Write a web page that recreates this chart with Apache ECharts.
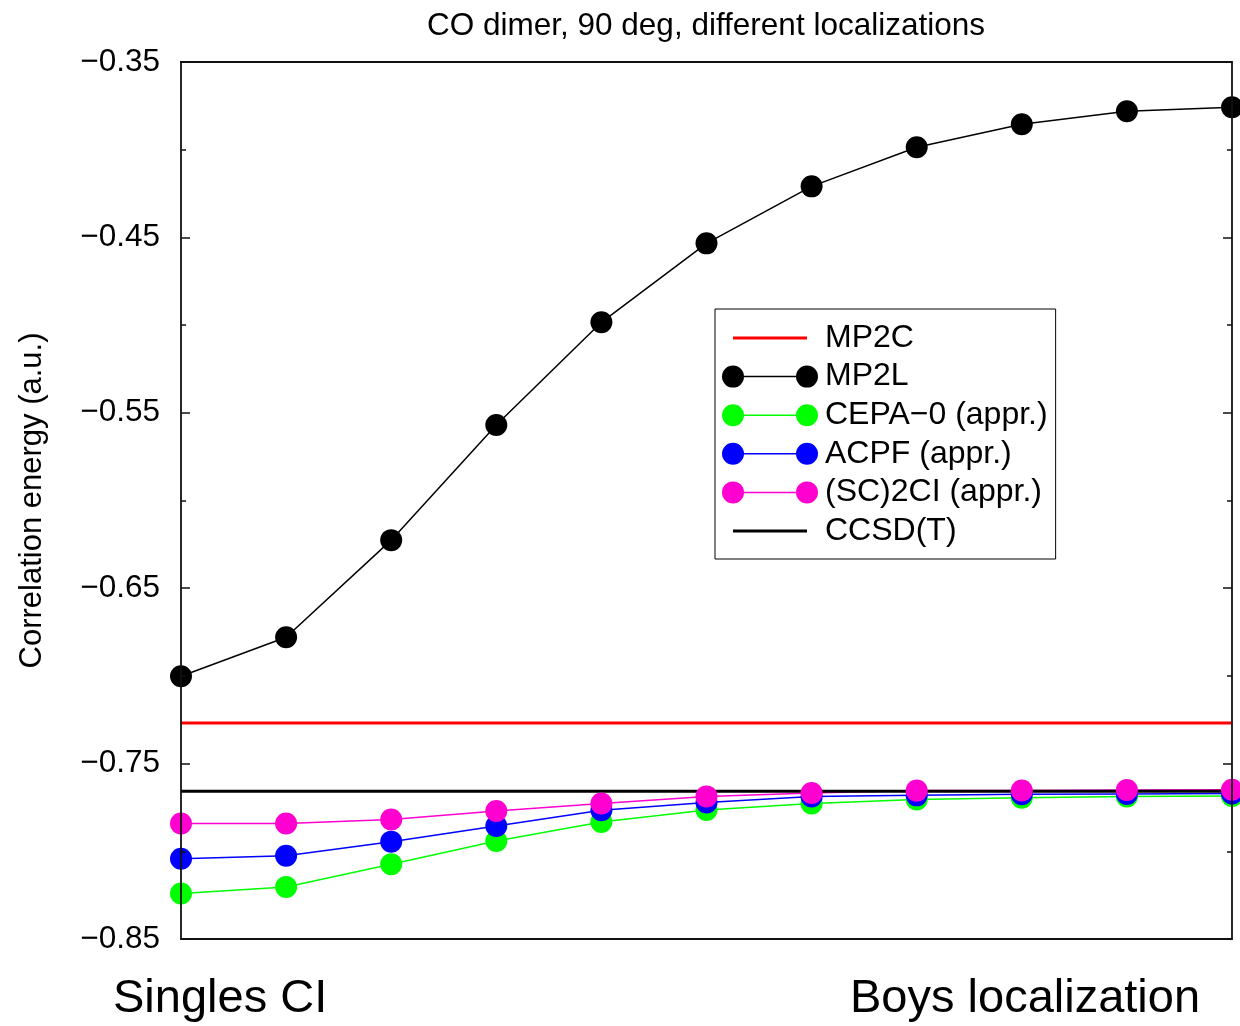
<!DOCTYPE html>
<html>
<head>
<meta charset="utf-8">
<script src="https://cdn.jsdelivr.net/npm/echarts@6/dist/echarts.min.js"></script>
<style>html,body{margin:0;padding:0;background:#fff;}#c{width:1240px;height:1026px;}</style>
</head>
<body>
<div id="c"></div>
<script>
// ---- data ----
var steps = [0, 1, 2, 3, 4, 5, 6, 7, 8, 9, 10];
var mp2cValue = -0.7269;
var ccsdtValue = -0.7657;
var mp2l = [-0.7002, -0.6780, -0.6226, -0.5570, -0.4984, -0.4534, -0.4209, -0.3986, -0.3855, -0.3781, -0.3758];
var cepa0 = [-0.8241, -0.8204, -0.8074, -0.7941, -0.7833, -0.7765, -0.7728, -0.7704, -0.7694, -0.7688, -0.7685];
var acpf = [-0.8042, -0.8025, -0.7945, -0.7856, -0.7766, -0.7722, -0.7688, -0.7681, -0.7675, -0.7673, -0.7671];
var sc2ci = [-0.7842, -0.7842, -0.7819, -0.7770, -0.7727, -0.7687, -0.7668, -0.7654, -0.7653, -0.7651, -0.7649];
var yTicks = [-0.85, -0.75, -0.65, -0.55, -0.45, -0.35];
var seriesNames = ['MP2C', 'MP2L', 'CEPA\u22120 (appr.)', 'ACPF (appr.)', '(SC)2CI (appr.)', 'CCSD(T)'];
var titleText = 'CO dimer, 90 deg, different localizations';
var yName = 'Correlation energy (a.u.)';
var xLeftLabel = 'Singles CI';
var xRightLabel = 'Boys localization';

function pairs(vals) { return steps.map(function (s, i) { return [s, vals[i]]; }); }
function flat(v) { return [[steps[0], v], [steps[steps.length - 1], v]]; }

var FONT = 'Liberation Sans, Helvetica, Arial, sans-serif';
var markIcon = 'path://M0,11A11,11,0,1,1,22,11A11,11,0,1,1,0,11Z M11,10.25L85,10.25L85,11.75L11,11.75Z M74,11A11,11,0,1,1,96,11A11,11,0,1,1,74,11Z';
var lineIcon = 'path://M0,0L0.01,0L0,0.01Z M96,22L95.99,22L96,21.99Z M11,9.5L85,9.5L85,12.5L11,12.5Z';

function markSeries(name, vals, color) {
  return {
    name: name, type: 'line', data: pairs(vals),
    symbol: 'circle', symbolSize: 22, showSymbol: true,
    lineStyle: { color: color, width: 1.5 },
    itemStyle: { color: color, borderWidth: 0 },
    emphasis: { disabled: true }, clip: false
  };
}
function flatSeries(name, v, color) {
  return {
    name: name, type: 'line', data: flat(v), symbol: 'none',
    lineStyle: { color: color, width: 3 },
    itemStyle: { color: color, borderWidth: 0 },
    emphasis: { disabled: true }
  };
}

var chart = echarts.init(document.getElementById('c'), null, { renderer: 'canvas' });
var axisLineStyle = { color: '#111', width: 1.8 };
var fmt = function (v) { return (v < 0 ? '\u2212' : '') + Math.abs(v).toFixed(2); };
chart.setOption({
  animation: false,
  backgroundColor: '#fff',
  grid: { left: 181, right: 8, top: 62, bottom: 87, containLabel: false },
  xAxis: [
    { type: 'value', min: steps[0], max: steps[steps.length - 1], position: 'bottom', z: 10,
      axisLine: { show: true, onZero: false, lineStyle: axisLineStyle },
      axisTick: { show: false }, axisLabel: { show: false }, splitLine: { show: false } },
    { type: 'value', min: steps[0], max: steps[steps.length - 1], position: 'top', z: 10,
      axisLine: { show: true, onZero: false, lineStyle: axisLineStyle },
      axisTick: { show: false }, axisLabel: { show: false }, splitLine: { show: false } }
  ],
  yAxis: [
    { type: 'value', min: yTicks[0], max: yTicks[yTicks.length - 1], interval: 0.1, position: 'left', z: 10,
      name: yName, nameLocation: 'middle', nameGap: 133, nameRotate: 90,
      nameTextStyle: { fontSize: 31, fontFamily: FONT, color: '#000' },
      axisLine: { show: true, onZero: false, lineStyle: axisLineStyle },
      axisTick: { show: true, inside: true, length: 9, lineStyle: { color: '#111', width: 1.5 } },
      minorTick: { show: true, splitNumber: 2, length: 5, lineStyle: { color: '#111', width: 1.5 } },
      axisLabel: { show: true, margin: 21, fontSize: 31.5, fontFamily: FONT, color: '#000', formatter: fmt },
      splitLine: { show: false } },
    { type: 'value', min: yTicks[0], max: yTicks[yTicks.length - 1], interval: 0.1, position: 'right', z: 10,
      axisLine: { show: true, onZero: false, lineStyle: axisLineStyle },
      axisTick: { show: true, inside: true, length: 9, lineStyle: { color: '#111', width: 1.5 } },
      minorTick: { show: true, splitNumber: 2, length: 5, lineStyle: { color: '#111', width: 1.5 } },
      axisLabel: { show: false }, splitLine: { show: false } }
  ],
  legend: {
    orient: 'vertical', left: 715, top: 309,
    padding: [13, 8, 12, 7],
    itemWidth: 96, itemHeight: 22, itemGap: 6.6,
    borderColor: '#000', borderWidth: 1, backgroundColor: '#fff',
    selectedMode: false,
    itemStyle: { borderWidth: 0 },
    textStyle: { fontSize: 32, fontFamily: FONT, color: '#000', lineHeight: 32, padding: [0, 0, 0, 2] },
    data: [
      { name: seriesNames[0], icon: lineIcon },
      { name: seriesNames[1], icon: markIcon },
      { name: seriesNames[2], icon: markIcon },
      { name: seriesNames[3], icon: markIcon },
      { name: seriesNames[4], icon: markIcon },
      { name: seriesNames[5], icon: lineIcon }
    ]
  },
  graphic: [
    { type: 'text', x: 706, y: 26, style: { text: titleText, fontSize: 31.5, fontFamily: FONT, fill: '#000', align: 'center', verticalAlign: 'middle' } },
    { type: 'text', x: 113, y: 999, style: { text: xLeftLabel, fontSize: 47, fontFamily: FONT, fill: '#000', align: 'left', verticalAlign: 'middle' } },
    { type: 'text', x: 850, y: 999, style: { text: xRightLabel, fontSize: 47, fontFamily: FONT, fill: '#000', align: 'left', verticalAlign: 'middle' } }
  ],
  series: [
    flatSeries(seriesNames[0], mp2cValue, '#ff0000'),
    markSeries(seriesNames[1], mp2l, '#000000'),
    markSeries(seriesNames[2], cepa0, '#00ff00'),
    markSeries(seriesNames[3], acpf, '#0000ff'),
    markSeries(seriesNames[4], sc2ci, '#ff00d0'),
    flatSeries(seriesNames[5], ccsdtValue, '#000000')
  ]
});
</script>
</body>
</html>
